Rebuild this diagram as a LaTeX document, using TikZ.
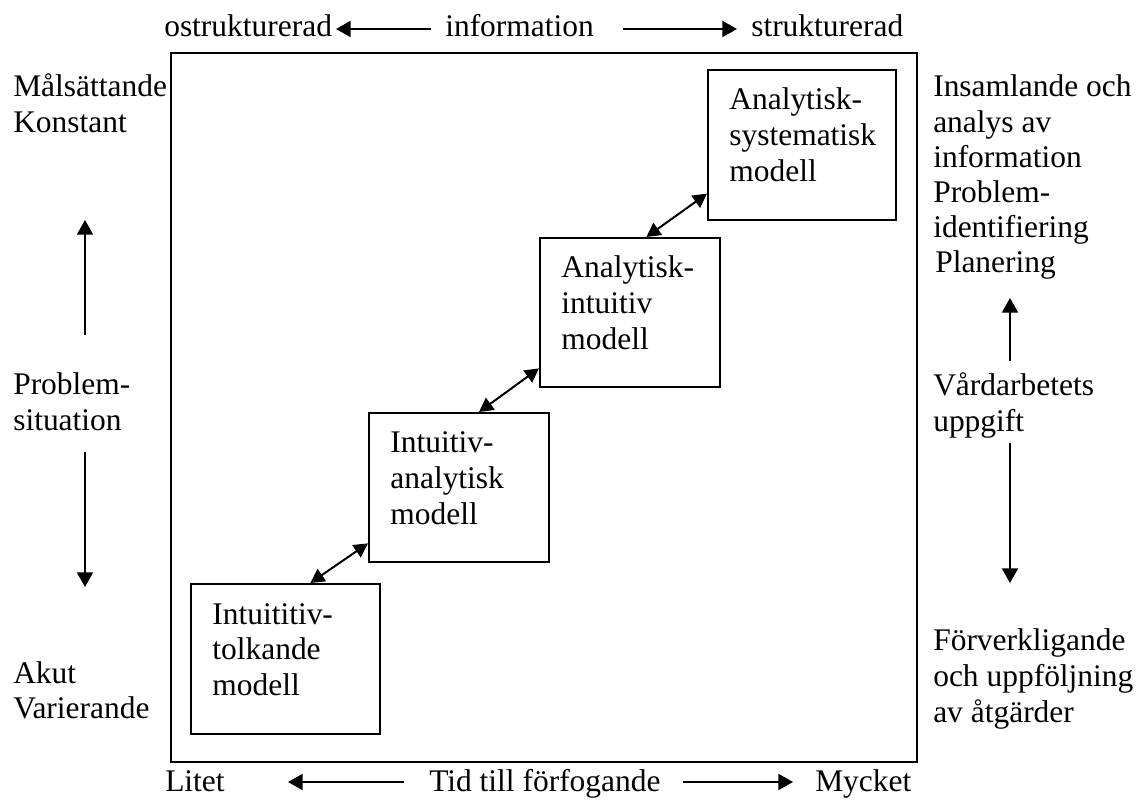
\documentclass[tikz,border=0pt]{standalone}
\usepackage{fontspec}
\setmainfont{Liberation Serif}
\usetikzlibrary{arrows.meta,calc}
\begin{document}
\begin{tikzpicture}[x=0.75pt,y=-0.75pt,
  every node/.style={inner sep=0pt, font=\fontsize{23.6pt}{27pt}\selectfont},
  % multi-line labels are placed by the baseline of their last line
  lbl/.style={anchor=base west, align=left},
  model/.style 2 args={draw, line width=1.5pt, anchor=north west, align=left,
    inner xsep=16pt, inner ysep=0pt, text height=30pt,
    text width=#1, text depth=#2},
  arr/.style={line width=1.5pt, -{Triangle[length=11pt,width=12pt]}},
  darr/.style={line width=1.5pt,
    {Triangle[length=10.5pt,width=11pt]}-{Triangle[length=10.5pt,width=11pt]}},
]
\useasboundingbox (0,0) rectangle (1140,805);

% outer frame
\draw[line width=1.5pt] (171,53) rectangle (917,762);

% information axis (top)
\node[lbl] (ostr) at (164,37) {ostrukturerad};
\node[lbl] (info) at (445,37) {information};
\node[lbl] (strk) at (751,37) {strukturerad};
\coordinate (it0) at (431,29);
\coordinate (it1) at (336,29);
\coordinate (it2) at (623,29);
\coordinate (it3) at (737,29);
\draw[arr] (it0) -- (it1);
\draw[arr] (it2) -- (it3);

% time axis (bottom)
\node[lbl] (litet) at (165,791) {Litet};
\node[lbl] (tid) at (429,791) {Tid till förfogande};
\node[lbl] (myck) at (815,791) {Mycket};
\coordinate (tb0) at (404,782);
\coordinate (tb1) at (288,782);
\coordinate (tb2) at (683,782);
\coordinate (tb3) at (793,782);
\draw[arr] (tb0) -- (tb1);
\draw[arr] (tb2) -- (tb3);

% problem situation (left)
\node[lbl] (mal) at (13,133) {Målsättande\\Konstant};
\node[lbl] (prob) at (13,431) {Problem-\\situation};
\node[lbl] (akut) at (13,719) {Akut\\Varierande};
\coordinate (pl0) at (85,335);
\coordinate (pl1) at (85,220);
\coordinate (pl2) at (85,452);
\coordinate (pl3) at (85,587);
\draw[arr] (pl0) -- (pl1);
\draw[arr] (pl2) -- (pl3);

% care task (right)
\node[lbl, font=\fontsize{23.6pt}{26.4pt}\selectfont] (insam) at (933,273)
  {Insamlande och\\analys av\\information\\Problem-\\identifiering\\\hspace*{1.5pt}Planering};
\node[lbl] (vard) at (933,432) {Vårdarbetets\\uppgift};
\node[lbl] (forv) at (933,722) {Förverkligande\\och uppföljning\\av åtgärder};
\coordinate (pr0) at (1010,361);
\coordinate (pr1) at (1010,298);
\coordinate (pr2) at (1010,443);
\coordinate (pr3) at (1010,583);
\draw[arr] (pr0) -- (pr1);
\draw[arr] (pr2) -- (pr3);

% the four models
\node[model={109.75pt}{82.5pt}] (b1) at (190,583) {Intuititiv-\\tolkande\\modell};
\node[model={103pt}{81.75pt}] (b2) at (368,412) {Intuitiv-\\analytisk\\modell};
\node[model={103pt}{81.75pt}] (b3) at (539,237) {Analytisk-\\intuitiv\\modell};
\node[model={109pt}{82.5pt}] (b4) at (707,69) {Analytisk-\\systematisk\\modell};

% links between neighbouring models
\draw[darr] ($(b1.north west)!0.63!(b1.north east)$) -- ($(b2.south west)!0.13!(b2.north west)$);
\draw[darr] ($(b2.north west)!0.61!(b2.north east)$) -- ($(b3.south west)!0.13!(b3.north west)$);
\draw[darr] ($(b3.north west)!0.59!(b3.north east)$) -- ($(b4.south west)!0.18!(b4.north west)$);
\end{tikzpicture}
\end{document}
